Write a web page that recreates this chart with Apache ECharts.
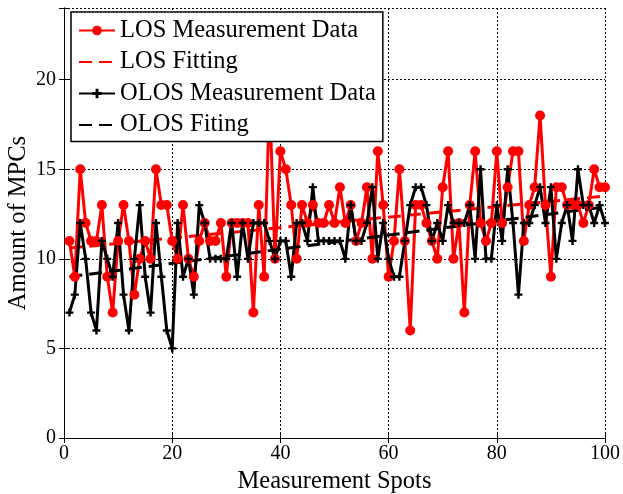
<!DOCTYPE html>
<html>
<head>
<meta charset="utf-8">
<title>Amount of MPCs</title>
<script src="https://cdn.jsdelivr.net/npm/echarts@6.0.0/dist/echarts.min.js"></script>
<style>
  html, body { margin: 0; padding: 0; background: #fff; }
  #chart { width: 623px; height: 494px; }
</style>
</head>
<body>
<div id="chart"></div>
<script>
// measurement spots 1..100
var losData = [
  11, 9, 15, 12, 11, 11, 13, 9, 7, 11,
  13, 11, 8, 10, 11, 10, 15, 13, 13, 11,
  10, 13, 10, 9, 11, 12, 11, 11, 12, 9,
  12, 12, 12, 12, 7, 13, 9, 19, 10, 16,
  15, 13, 10, 13, 12, 13, 12, 12, 13, 12,
  14, 12, 13, 11, 12, 14, 10, 16, 13, 9,
  11, 15, 11, 6, 13, 13, 12, 11, 10, 14,
  16, 10, 12, 7, 13, 16, 12, 11, 12, 16,
  12, 14, 16, 16, 11, 13, 14, 18, 13, 9,
  14, 14, 13, 13, 13, 12, 13, 15, 14, 14
]
var olosData = [
  7, 8, 12, 10, 7, 6, 11, 10, 9, 12,
  8, 6, 10, 13, 9, 7, 12, 9, 6, 5,
  12, 9, 10, 8, 13, 12, 10, 10, 10, 10,
  12, 9, 12, 10, 12, 12, 12, 11, 10, 11,
  11, 9, 12, 12, 11, 14, 11, 11, 11, 11,
  11, 10, 13, 11, 11, 12, 14, 10, 12, 10,
  9, 9, 11, 13, 14, 14, 13, 11, 12, 11,
  13, 12, 12, 12, 13, 10, 15, 10, 10, 13,
  11, 15, 12, 8, 12, 12, 13, 14, 12, 14,
  10, 12, 13, 11, 15, 13, 13, 12, 13, 12
]
// fitted lines, end points
var losFit = [[1, 10.6], [100, 13.5]]
var olosFit = [[1, 9.0], [100, 12.9]]

var xTicks = [0, 20, 40, 60, 80, 100]
var yTicks = [0, 5, 10, 15, 20]

var serif = 'Liberation Serif'
var plus = 'path://M3.5,0H6.5V3.5H10V6.5H6.5V10H3.5V6.5H0V3.5H3.5Z'
var dash = [13, 7]

function withSpots(arr) {
  return arr.map(function (v, i) { return [i + 1, v] })
}

var gridDots = { show: true, lineStyle: { color: '#000', type: [2, 2], width: 1 } }

var option = {
  animation: false,
  backgroundColor: '#fff',
  grid: { left: 64, right: 18, top: 8, bottom: 56, outerBoundsMode: 'none' },
  legend: {
    orient: 'vertical',
    left: 71,
    top: 12,
    padding: [6, 7, 4, 7],
    itemGap: 6.5,
    itemWidth: 36,
    itemHeight: 12,
    backgroundColor: '#fff',
    borderColor: '#000',
    borderWidth: 1.5,
    borderRadius: 0,
    textStyle: { fontFamily: serif, fontSize: 24.5, color: '#000' },
    data: [
      'LOS Measurement Data',
      { name: 'LOS Fitting', itemStyle: { opacity: 0 }, lineStyle: { type: dash } },
      'OLOS Measurement Data',
      { name: 'OLOS Fiting', itemStyle: { opacity: 0 }, lineStyle: { type: dash } }
    ]
  },
  xAxis: [
    {
      type: 'value',
      min: xTicks[0],
      max: xTicks[xTicks.length - 1],
      interval: xTicks[1] - xTicks[0],
      name: 'Measurement Spots',
      nameLocation: 'middle',
      nameGap: 28,
      nameTextStyle: { fontFamily: serif, fontSize: 24.5, color: '#000' },
      axisLine: { show: true, lineStyle: { color: '#000', width: 1 } },
      axisTick: { show: true, inside: true, length: 5, lineStyle: { color: '#000' } },
      axisLabel: { fontFamily: serif, fontSize: 20, color: '#000', margin: 6 },
      splitLine: gridDots
    },
    {
      type: 'value',
      position: 'top',
      min: xTicks[0],
      max: xTicks[xTicks.length - 1],
      interval: xTicks[1] - xTicks[0],
      axisLine: { show: true, lineStyle: { color: '#000', width: 1 } },
      axisTick: { show: true, inside: true, length: 5, lineStyle: { color: '#000' } },
      axisLabel: { show: false },
      splitLine: { show: false }
    }
  ],
  yAxis: [
    {
      type: 'value',
      min: 0,
      max: 24,
      interval: yTicks[1] - yTicks[0],
      name: 'Amount of MPCs',
      nameLocation: 'middle',
      nameGap: 33,
      nameMoveOverlap: false,
      nameTextStyle: { fontFamily: serif, fontSize: 24.5, color: '#000' },
      axisLine: { show: true, lineStyle: { color: '#000', width: 1 } },
      axisTick: { show: true, inside: true, length: 5, lineStyle: { color: '#000' } },
      axisLabel: {
        fontFamily: serif, fontSize: 20, color: '#000', margin: 8,
        formatter: function (v) { return yTicks.indexOf(v) >= 0 ? String(v) : '' }
      },
      splitLine: gridDots
    },
    {
      type: 'value',
      position: 'right',
      min: 0,
      max: 24,
      interval: yTicks[1] - yTicks[0],
      axisLine: { show: true, lineStyle: { color: '#000', width: 1 } },
      axisTick: { show: true, inside: true, length: 5, lineStyle: { color: '#000' } },
      axisLabel: { show: false },
      splitLine: { show: false }
    }
  ],
  series: [
    {
      name: 'LOS Measurement Data',
      type: 'line',
      data: withSpots(losData),
      symbol: 'circle',
      symbolSize: 10,
      showAllSymbol: true,
      itemStyle: { color: '#ff0000' },
      lineStyle: { color: '#ff0000', width: 3 }
    },
    {
      name: 'LOS Fitting',
      type: 'line',
      data: losFit,
      symbol: 'none',
      itemStyle: { color: '#ff0000' },
      lineStyle: { color: '#ff0000', width: 3, type: dash }
    },
    {
      name: 'OLOS Measurement Data',
      type: 'line',
      data: withSpots(olosData),
      symbol: plus,
      symbolSize: 8,
      showAllSymbol: true,
      itemStyle: { color: '#000' },
      lineStyle: { color: '#000', width: 3 }
    },
    {
      name: 'OLOS Fiting',
      type: 'line',
      data: olosFit,
      symbol: 'none',
      itemStyle: { color: '#000' },
      lineStyle: { color: '#000', width: 3, type: dash }
    }
  ]
}

var chart = echarts.init(document.getElementById('chart'))
chart.setOption(option)
window.onresize = function () {
  chart.resize()
}
</script>
</body>
</html>
